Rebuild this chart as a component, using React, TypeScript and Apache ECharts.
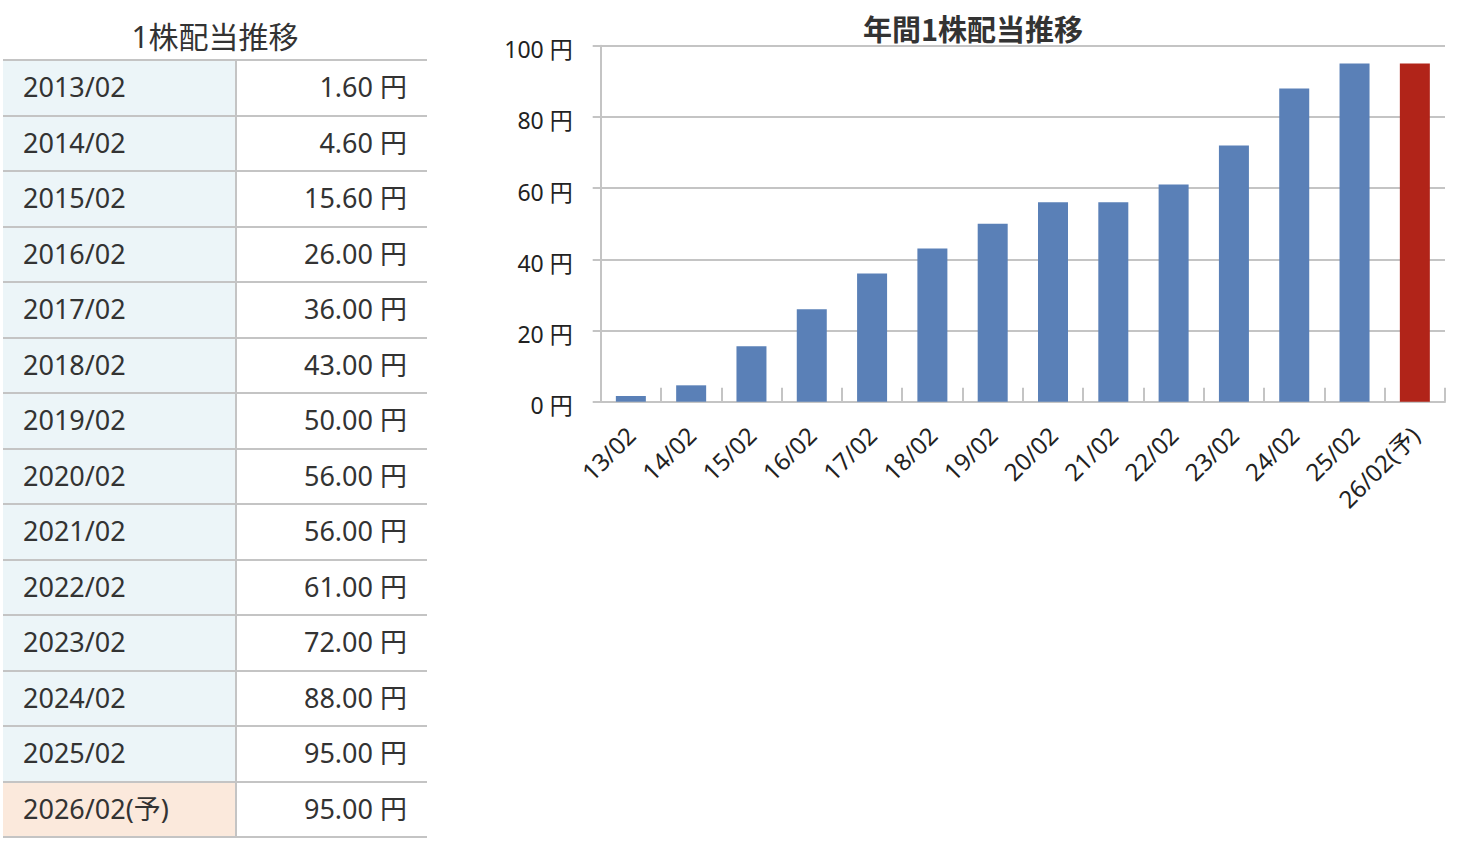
import React, { useEffect, useRef } from "react";
import * as echarts from "echarts";

const tableTitle = "1株配当推移";
const chartTitle = "年間1株配当推移";
const periods = [
  "2013/02", "2014/02", "2015/02", "2016/02", "2017/02", "2018/02", "2019/02",
  "2020/02", "2021/02", "2022/02", "2023/02", "2024/02", "2025/02", "2026/02(予)",
];
const categories = [
  "13/02", "14/02", "15/02", "16/02", "17/02", "18/02", "19/02",
  "20/02", "21/02", "22/02", "23/02", "24/02", "25/02", "26/02(予)",
];
const dividends = [1.6, 4.6, 15.6, 26, 36, 43, 50, 56, 56, 61, 72, 88, 95, 95];
const yMin = 0;
const yMax = 100;
const yInterval = 20;
const unit = "円";

const FONT = '"Noto Sans", "Noto Sans CJK JP", sans-serif';
const CJK = '"Noto Sans CJK JP", sans-serif';
const BLUE = "#5a80b7";
const RED = "#b12419";
const GRID = "#c4c4c4";
const TEXT = "#333333";

const isForecast = (s: string) => s.indexOf("(予)") >= 0;

function Table() {
  const top0 = 60;
  const rowH = 55.5;
  return (
    <div style={{ position: "absolute", left: 0, top: 0, width: 440, height: 844 }}>
      <div
        style={{
          position: "absolute",
          left: 3,
          width: 424,
          top: 17,
          textAlign: "center",
          fontFamily: FONT,
          fontSize: 30,
          lineHeight: "40px",
          color: TEXT,
        }}
      >
        {tableTitle}
      </div>
      <div
        style={{ position: "absolute", left: 3, width: 424, top: top0 - 1, height: 2, background: GRID }}
      />
      {periods.map((p, i) => (
        <div
          key={p}
          style={{
            position: "absolute",
            left: 3,
            width: 424,
            top: top0 + 1 + i * rowH,
            height: rowH - 2,
            fontFamily: FONT,
            fontSize: 27,
            color: TEXT,
          }}
        >
          <div
            style={{
              position: "absolute",
              left: 0,
              top: 0,
              width: 232,
              height: rowH - 2,
              background: isForecast(p) ? "#fbe9dc" : "#ecf5f8",
              lineHeight: `${rowH - 4}px`,
              paddingLeft: 20,
              boxSizing: "border-box",
            }}
          >
            {p}
          </div>
          <div style={{ position: "absolute", left: 232, top: 0, width: 2, height: rowH, background: GRID }} />
          <div
            style={{
              position: "absolute",
              left: 234,
              top: 0,
              width: 190,
              height: rowH - 2,
              lineHeight: `${rowH - 4}px`,
              textAlign: "right",
              paddingRight: 20,
              boxSizing: "border-box",
            }}
          >
            {dividends[i].toFixed(2) + " " + unit}
          </div>
          <div
            style={{ position: "absolute", left: 0, top: rowH - 2, width: 424, height: 2, background: GRID }}
          />
        </div>
      ))}
    </div>
  );
}

export default function App() {
  const ref = useRef<HTMLDivElement>(null);
  useEffect(() => {
    if (!ref.current) return;
    const chart = echarts.init(ref.current, undefined, { renderer: "svg" });
    chart.setOption({
      animation: false,
      title: {
        text: chartTitle,
        left: 968,
        top: 8,
        textAlign: "center",
        textStyle: { fontFamily: CJK, fontSize: 29, fontWeight: "bold", color: TEXT },
      },
      grid: { left: 600.7, right: 13, top: 45.7, bottom: 844 - 401.7, containLabel: false },
      xAxis: {
        type: "category",
        data: categories,
        boundaryGap: true,
        axisLine: { show: true, lineStyle: { color: GRID, width: 2 } },
        axisTick: { show: true, inside: true, length: 14, lineStyle: { color: GRID, width: 2 } },
        axisLabel: {
          interval: 0,
          rotate: 45,
          margin: 29,
          fontFamily: FONT,
          fontSize: 24,
          color: "#222222",
        },
      },
      yAxis: {
        type: "value",
        min: yMin,
        max: yMax,
        interval: yInterval,
        axisLine: { show: true, lineStyle: { color: GRID, width: 2 } },
        axisTick: { show: true, length: 8, lineStyle: { color: GRID, width: 2 } },
        splitLine: { show: true, lineStyle: { color: GRID, width: 2 } },
        axisLabel: {
          formatter: (v: number) => `{a|${v} ${unit}}`,
          margin: 28,
          rich: {
            a: {
              padding: [7, 0, 0, 0],
              fontFamily: FONT,
              fontSize: 23,
              color: "#222222",
            },
          },
          fontFamily: FONT,
          fontSize: 23,
          color: "#222222",
        },
      },
      series: [
        {
          type: "bar",
          barWidth: 30,
          data: dividends.map((v, i) => ({
            value: v,
            itemStyle: { color: isForecast(categories[i]) ? RED : BLUE },
          })),
        },
      ],
    });
    return () => chart.dispose();
  }, []);

  return (
    <div style={{ position: "fixed", left: 0, top: 0, width: 1458, height: 844, background: "#fff", overflow: "hidden" }}>
      <div ref={ref} style={{ position: "absolute", left: 0, top: 0, width: 1458, height: 844 }} />
      <Table />
    </div>
  );
}
